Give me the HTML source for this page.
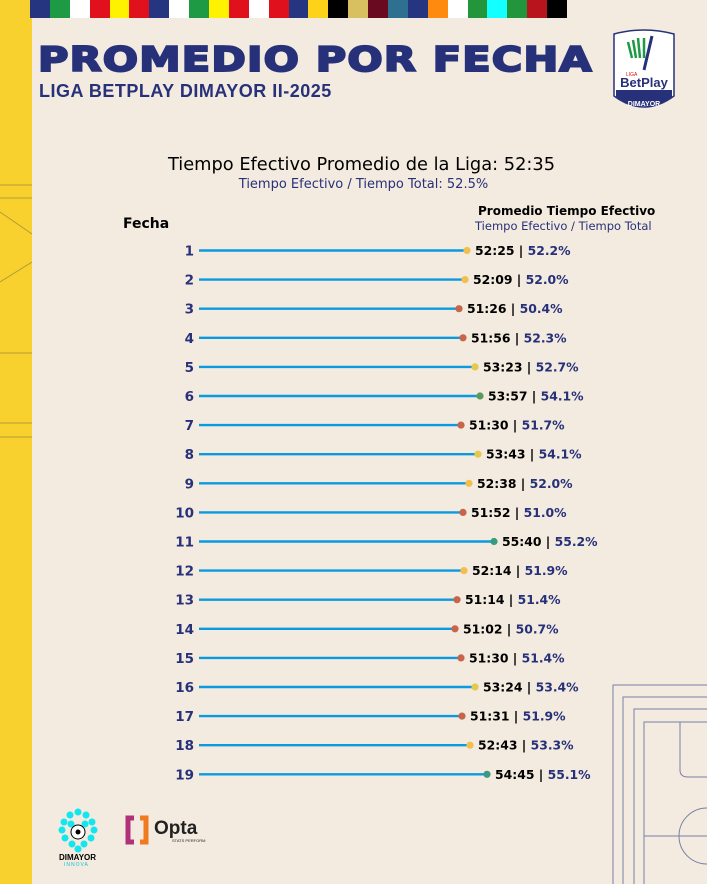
<!DOCTYPE html>
<html><head><meta charset="utf-8"><style>
*{margin:0;padding:0;box-sizing:border-box}
body{width:707px;height:884px;background:#f3ebdf;position:relative;overflow:hidden;font-family:"Liberation Sans","DejaVu Sans",sans-serif}
.ybar{position:absolute;left:0;top:0;width:32px;height:884px;background:#f8d12f}
.flags{position:absolute;left:30px;top:0;height:18px;display:flex}
.flags div{width:19.9px;height:18px}
.t1{position:absolute;left:38px;top:40px;font-family:"DejaVu Sans",sans-serif;font-weight:900;font-size:34px;color:#27317a;letter-spacing:1px;transform:scaleX(1.22);transform-origin:left;white-space:nowrap;-webkit-text-stroke:2px #27317a}
.t2{position:absolute;left:39px;top:81px;font-weight:bold;font-size:18px;color:#27317a;letter-spacing:0.5px}
.abs{position:absolute;white-space:nowrap}
</style></head><body>
<div class="ybar"></div>
<svg class="abs" style="left:0;top:0" width="32" height="884"><g stroke="#8a7a3a" stroke-width="1" fill="none" opacity=".6"><line x1="0" y1="185" x2="32" y2="185"/><line x1="0" y1="198" x2="32" y2="198"/><line x1="0" y1="212" x2="32" y2="234"/><line x1="0" y1="282" x2="32" y2="262"/><line x1="0" y1="353" x2="32" y2="353"/><line x1="0" y1="423" x2="32" y2="423"/><line x1="0" y1="437" x2="32" y2="437"/></g></svg>
<div class="flags">
<div style="background:#253580"></div><div style="background:#1e9a44"></div><div style="background:#fff"></div><div style="background:#e0101c"></div><div style="background:#fff200"></div><div style="background:#e0101c"></div><div style="background:#253580"></div><div style="background:#fff"></div><div style="background:#1e9a44"></div><div style="background:#fff200"></div><div style="background:#e0101c"></div><div style="background:#fff"></div><div style="background:#e0101c"></div><div style="background:#253580"></div><div style="background:#ffd21a"></div><div style="background:#000"></div><div style="background:#d8c060"></div><div style="background:#6a0a20"></div><div style="background:#2f7090"></div><div style="background:#253580"></div><div style="background:#ff8a10"></div><div style="background:#fff"></div><div style="background:#23953b"></div><div style="background:#14ffff"></div><div style="background:#23953b"></div><div style="background:#b8141e"></div><div style="background:#000"></div>
</div>
<div class="t1">PROMEDIO POR FECHA</div>
<div class="t2">LIGA BETPLAY DIMAYOR II-2025</div>
<svg class="abs" style="left:610px;top:28px" width="68" height="88"><path d="M4 6 Q34 -2 64 6 L64 68 Q34 90 4 68 Z" fill="#fff" stroke="#27317a" stroke-width="1.5"/><path d="M6 62 L62 62 L62 70 Q34 86 6 70Z" fill="#27317a"/><text x="34" y="78" font-size="7" font-weight="bold" fill="#fff" text-anchor="middle" font-family="Liberation Sans">DIMAYOR</text><text x="34" y="59" font-size="13" font-weight="bold" fill="#27317a" text-anchor="middle" font-family="Liberation Sans">BetPlay</text><text x="16" y="48" font-size="5" fill="#e0101c" font-family="Liberation Sans">LIGA</text><path d="M18 14 L22 30 M23 12 L26 30 M28 10 L30 30 M34 10 L34 30" stroke="#1e9a44" stroke-width="2.5"/><path d="M42 8 L34 42" stroke="#27317a" stroke-width="3"/></svg>
<div class="abs" style="left:0;width:723px;top:154px;text-align:center;font-family:'DejaVu Sans',sans-serif;font-size:17.8px;color:#000">Tiempo Efectivo Promedio de la Liga: 52:35</div>
<div class="abs" style="left:0;width:727px;top:177px;text-align:center;font-family:'DejaVu Sans',sans-serif;font-size:13px;color:#27317a">Tiempo Efectivo / Tiempo Total: 52.5%</div>
<div class="abs" style="left:123px;top:216px;font-family:'DejaVu Sans',sans-serif;font-weight:bold;font-size:14px;color:#000">Fecha</div>
<div class="abs" style="left:478px;top:204px;font-family:'DejaVu Sans',sans-serif;font-weight:bold;font-size:12px;color:#000">Promedio Tiempo Efectivo</div>
<div class="abs" style="left:475px;top:219px;font-family:'DejaVu Sans',sans-serif;font-size:11.5px;color:#27317a">Tiempo Efectivo / Tiempo Total</div>
<svg class="abs" style="left:0;top:0" width="707" height="884">
<g fill="none" stroke="#7a7fa8" stroke-width="1">
<path d="M613 884 V685 H707"/><path d="M623 884 V697 H707"/><path d="M634 884 V709 H707"/><path d="M644 884 V722 H707"/>
<path d="M680 722 V770 Q680 777 688 777 H707"/>
<path d="M707 808 A28 28 0 0 0 707 864"/><line x1="644" y1="836" x2="707" y2="836"/>
</g>
<g id="rows" font-family="DejaVu Sans" font-weight="bold" font-size="12.4"></g>
</svg>
<script>
var d=[[1,467,'#f2bf4e','52:25','52.2%'],[2,465,'#f2bf4e','52:09','52.0%'],[3,459,'#c8644a','51:26','50.4%'],[4,463,'#c8644a','51:56','52.3%'],[5,475,'#e6c84e','53:23','52.7%'],[6,480,'#5a9a5a','53:57','54.1%'],[7,461,'#c8644a','51:30','51.7%'],[8,478,'#e6c84e','53:43','54.1%'],[9,469,'#f2bf4e','52:38','52.0%'],[10,463,'#c8644a','51:52','51.0%'],[11,494,'#3a9a80','55:40','55.2%'],[12,464,'#f2bf4e','52:14','51.9%'],[13,457,'#c8644a','51:14','51.4%'],[14,455,'#c8644a','51:02','50.7%'],[15,461,'#c8644a','51:30','51.4%'],[16,475,'#e6c84e','53:24','53.4%'],[17,462,'#c8644a','51:31','51.9%'],[18,470,'#f2bf4e','52:43','53.3%'],[19,487,'#3a9a80','54:45','55.1%']];
var s='';d.forEach(function(r,i){var y=250.5+i*29.1;
s+='<text x="194" y="'+(y+5)+'" text-anchor="end" font-size="13.5" fill="#27317a">'+r[0]+'</text>';
s+='<line x1="199" y1="'+y+'" x2="'+r[1]+'" y2="'+y+'" stroke="#0a9ae0" stroke-width="2.4"/>';
s+='<circle cx="'+r[1]+'" cy="'+y+'" r="3.6" fill="'+r[2]+'"/>';
s+='<text x="'+(r[1]+8)+'" y="'+(y+4.5)+'"><tspan fill="#000">'+r[3]+' | </tspan><tspan fill="#27317a">'+r[4]+'</tspan></text>';});
document.getElementById('rows').innerHTML=s;
</script>
<svg class="abs" style="left:54px;top:806px" width="50" height="48"><g fill="#14e6f0"><circle cx="24" cy="6" r="3.5"/><circle cx="16" cy="9" r="3.5"/><circle cx="32" cy="9" r="3.5"/><circle cx="10" cy="16" r="3.5"/><circle cx="38" cy="16" r="3.5"/><circle cx="8" cy="24" r="3.5"/><circle cx="40" cy="24" r="3.5"/><circle cx="11" cy="32" r="3.5"/><circle cx="37" cy="32" r="3.5"/><circle cx="18" cy="38" r="3.5"/><circle cx="30" cy="38" r="3.5"/><circle cx="24" cy="43" r="3.5"/><circle cx="17" cy="18" r="3.5"/><circle cx="31" cy="18" r="3.5"/></g><circle cx="24" cy="26" r="7" fill="#fff" stroke="#000"/><circle cx="24" cy="26" r="2.5" fill="#000"/></svg>
<div class="abs" style="left:59px;top:853px;font-size:8px;font-weight:bold;color:#000">DIMAYOR</div>
<div class="abs" style="left:64px;top:862px;font-size:5px;color:#14c0d0;letter-spacing:1px">INNOVA</div>
<svg class="abs" style="left:124px;top:815px" width="30" height="30"><path d="M10 3 H4 V27 H10" stroke="#b0307a" stroke-width="5" fill="none"/><path d="M16 3 H22 V27 H16" stroke="#f07a20" stroke-width="5" fill="none"/></svg>
<div class="abs" style="left:154px;top:818px;font-size:19px;font-weight:bold;color:#222">Opta</div>
<div class="abs" style="left:172px;top:838px;font-size:4px;color:#222">STATS PERFORM</div>
</body></html>
